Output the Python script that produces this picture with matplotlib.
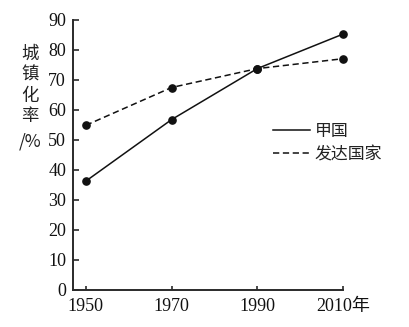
import matplotlib
matplotlib.use("Agg")
import matplotlib.pyplot as plt

# Urbanization rate (%) by year
years = [1950, 1970, 1990, 2010]
country_a = [36.3, 56.8, 73.8, 85.3]
developed = [54.9, 67.5, 73.8, 77.1]
series_labels = ["甲国", "发达国家"]
year_labels = ["1950", "1970", "1990", "2010年"]
y_ticks = [0, 10, 20, 30, 40, 50, 60, 70, 80, 90]
y_title = ["城", "镇", "化", "率", "/%"]

plt.rcParams["lines.scale_dashes"] = False
serif_cjk = ["Liberation Serif", "Noto Sans CJK SC"]
cjk = ["Noto Sans CJK SC", "DejaVu Sans"]

W, H = 410, 327
fig = plt.figure(figsize=(W / 100, H / 100), dpi=100)
ax = fig.add_axes([73 / W, (H - 290) / H, 270 / W, 270 / H])

ink = "#111111"
ax.plot(years, country_a, color=ink, lw=1.1, marker="o", ms=5.2,
        label=series_labels[0], clip_on=False)
ax.plot(years, developed, color=ink, lw=1.1, marker="o", ms=5.2,
        dashes=(4.5, 2.6), label=series_labels[1], clip_on=False)

ax.set_xlim(1947, 2010)
ax.set_ylim(0, 90)
ax.set_xticks(years)
ax.set_xticklabels(year_labels)
ax.set_yticks(y_ticks)
ax.set_yticklabels([str(v) for v in y_ticks])

for side in ("top", "right"):
    ax.spines[side].set_visible(False)
for side in ("left", "bottom"):
    ax.spines[side].set_linewidth(1.4)
    ax.spines[side].set_color("#2a2a2a")

ax.tick_params(axis="y", direction="in", length=4.3, width=1.2,
               color="#2a2a2a", pad=5)
ax.tick_params(axis="x", direction="in", length=3, width=1.2,
               color="#2a2a2a", pad=6)
for lab in ax.get_xticklabels() + ax.get_yticklabels():
    lab.set_family(serif_cjk)
    lab.set_fontsize(13)
    lab.set_color(ink)

leg = ax.legend(frameon=False, loc="center left",
                bbox_to_anchor=((273 - 73) / 270, (290 - 142.5) / 270),
                prop={"family": cjk, "size": 12.2, "weight": "light"},
                handlelength=2.2, handletextpad=0.25, labelspacing=0.3,
                borderpad=0, borderaxespad=0, markerscale=0)
for h in leg.get_lines():
    h.set_marker("")
    h.set_linewidth(1.1)
for t in leg.get_texts():
    t.set_color("#222222")

# Vertical y-axis title, one character per row
title_y = [53.3, 74.3, 95.5, 115.5, 141.5]
for ch, yp in zip(y_title, title_y):
    fig.text(30 / W, 1 - yp / H, ch, ha="center", va="center",
             family=cjk, fontsize=12.5, fontweight="light", color="#222222")

fig.savefig("out.png", dpi=100)
